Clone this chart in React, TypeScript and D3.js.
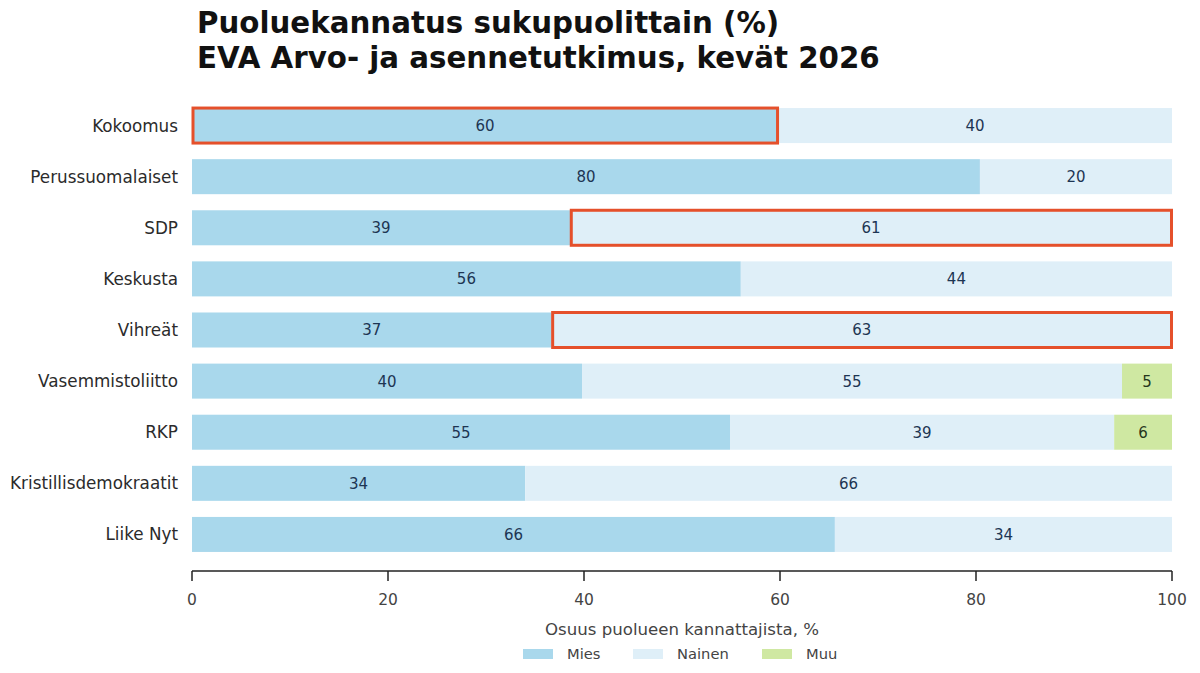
import React from 'react'
import * as d3 from 'd3'

const parties = [
  'Kokoomus',
  'Perussuomalaiset',
  'SDP',
  'Keskusta',
  'Vihreät',
  'Vasemmistoliitto',
  'RKP',
  'Kristillisdemokraatit',
  'Liike Nyt',
]
const seriesNames = ['Mies', 'Nainen', 'Muu']
const mies = [59.8, 80.4, 38.6, 56.0, 36.7, 39.8, 54.9, 34.0, 65.6]
const nainen = [40.2, 19.6, 61.4, 44.0, 63.3, 55.1, 39.2, 66.0, 34.4]
const muu = [0, 0, 0, 0, 0, 5.1, 5.9, 0, 0]
const xTicks = [0, 20, 40, 60, 80, 100]
// segments outlined in orange
const highlights: [string, string][] = [
  ['Kokoomus', 'Mies'],
  ['SDP', 'Nainen'],
  ['Vihreät', 'Nainen'],
]

const colors: Record<string, string> = {
  Mies: '#a9d8ec',
  Nainen: '#dfeff8',
  Muu: '#cfe8a2',
}
const labelColors: Record<string, string> = {
  Mies: '#1d3553',
  Nainen: '#1d3553',
  Muu: '#26361c',
}

const W = 1200
const H = 673
const font = "'DejaVu Sans', sans-serif"

export default function App() {
  const x = d3.scaleLinear().domain([0, 100]).range([192, 1172])
  const y = d3
    .scaleBand<string>()
    .domain(parties)
    .range([100, 560])
    .paddingInner(0.315)
    .paddingOuter(0.1575)

  const rows = parties.map((p, i) => ({ party: p, Mies: mies[i], Nainen: nainen[i], Muu: muu[i] }))
  const stack = d3.stack<any>().keys(seriesNames)(rows)

  const axisY = 571

  return (
    <svg width={W} height={H} style={{ position: 'absolute', left: 0, top: 0, background: '#fff' }}>
      {/* title */}
      <g fontFamily={font} fontWeight="bold" fontSize={29.3} fill="#111">
        <text x={197} y={33}>Puoluekannatus sukupuolittain (%)</text>
        <text x={197} y={68}>EVA Arvo- ja asennetutkimus, kevät 2026</text>
      </g>

      {/* bars */}
      {stack.map(layer => (
        <g key={layer.key}>
          {layer.map((d, i) => {
            const w = x(d[1]) - x(d[0])
            if (w <= 0) return null
            return (
              <rect
                key={parties[i]}
                x={x(d[0])}
                y={y(parties[i])}
                width={w}
                height={y.bandwidth()}
                fill={colors[layer.key]}
              />
            )
          })}
        </g>
      ))}

      {/* value labels */}
      {stack.map(layer => (
        <g key={'l' + layer.key} fontFamily={font} fontSize={15} textAnchor="middle" fill={labelColors[layer.key]}>
          {layer.map((d, i) => {
            const v = d[1] - d[0]
            if (v <= 0) return null
            return (
              <text key={parties[i]} x={(x(d[0]) + x(d[1])) / 2} y={y(parties[i])! + y.bandwidth() / 2} dy="0.36em">
                {Math.round(v)}
              </text>
            )
          })}
        </g>
      ))}

      {/* highlight boxes */}
      {highlights.map(([p, s]) => {
        const layer = stack.find(l => l.key === s)!
        const d = layer[parties.indexOf(p)]
        return (
          <rect
            key={p + s}
            x={x(d[0]) + 1}
            y={y(p)!}
            width={x(d[1]) - x(d[0]) - 1.5}
            height={y.bandwidth()}
            fill="none"
            stroke="#e5502b"
            strokeWidth={3}
          />
        )
      })}

      {/* category labels */}
      <g fontFamily={font} fontSize={16.8} textAnchor="end" fill="#2b2b2b">
        {parties.map(p => (
          <text key={p} x={178} y={y(p)! + y.bandwidth() / 2} dy="0.36em">
            {p}
          </text>
        ))}
      </g>

      {/* x axis */}
      <g>
        <line x1={x(0)} x2={x(100)} y1={axisY} y2={axisY} stroke="#222" strokeWidth={1.5} />
        {xTicks.map(t => (
          <g key={t} transform={`translate(${x(t)},${axisY})`}>
            <line y1={0} y2={10} stroke="#222" strokeWidth={1.5} />
            <text y={34} textAnchor="middle" fontFamily={font} fontSize={15.5} fill="#444">
              {t}
            </text>
          </g>
        ))}
        <text x={(x(0) + x(100)) / 2} y={635} textAnchor="middle" fontFamily={font} fontSize={16.6} fill="#444">
          Osuus puolueen kannattajista, %
        </text>
      </g>

      {/* legend */}
      <g fontFamily={font} fontSize={14.7} fill="#444">
        {seriesNames.map((s, i) => {
          const lx = [523, 633, 762][i]
          return (
            <g key={s}>
              <rect x={lx} y={649} width={30} height={10} fill={colors[s]} />
              <text x={lx + 44} y={654} dy="0.36em">
                {s}
              </text>
            </g>
          )
        })}
      </g>
    </svg>
  )
}
